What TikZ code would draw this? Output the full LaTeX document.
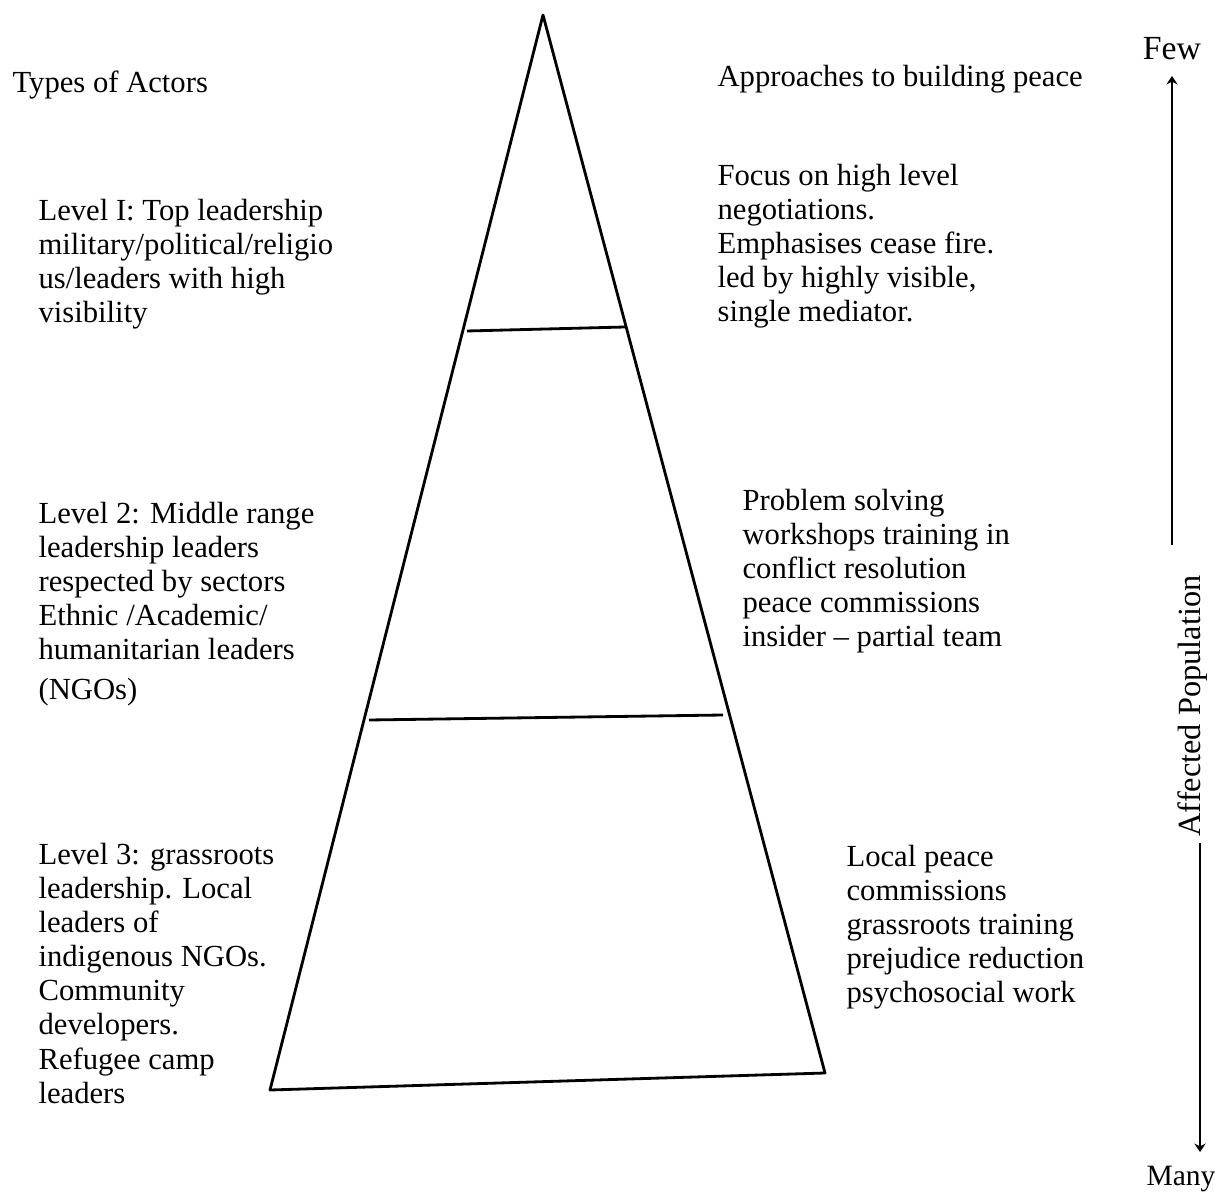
\documentclass[tikz,border=0pt]{standalone}
\usepackage{fontspec}
\setmainfont{Liberation Serif}
\usepackage{tikz}
\usetikzlibrary{arrows.meta}

\tikzset{
  txt/.style={anchor=north west, align=left, inner sep=0pt,
              font=\fontsize{10.9}{12.1}\selectfont},
  edge/.style={black, line width=1pt},
  axis/.style={black, line width=1pt, -{Stealth[length=3pt,width=4pt]}}
}

\begin{document}
\begin{tikzpicture}[x={(0.0125cm,0)}, y={(0,-0.0125cm)}]
  \useasboundingbox (0,0) rectangle (1215,1192);

  % ---------------- the pyramid ----------------
  \coordinate (apex) at (543,15);
  \coordinate (bl)   at (270,1090);
  \coordinate (br)   at (825,1073);
  \coordinate (l1a)  at (467,331);
  \coordinate (l1b)  at (625,327);
  \coordinate (l2a)  at (369,720);
  \coordinate (l2b)  at (723,715);
  \draw[edge, line join=round] (apex) -- (br) -- (bl) -- cycle;
  \draw[edge] (l1a) -- (l1b);
  \draw[edge] (l2a) -- (l2b);

  % ---------------- headings ----------------
  \node[txt] (actors) at (12,70) {Types of Actors};
  \node[txt] (approaches) at (717,65) {Approaches to building peace};

  % ---------------- actors, left side ----------------
  \node[txt] (lev1) at (38,199) {Level I: Top leadership\\
    military/political/religio\\us/leaders with high\\visibility};
  \node[txt] (lev2) at (38,502) {Level 2: Middle range\\leadership leaders\\
    respected by sectors\\Ethnic /Academic/\\humanitarian leaders\\[2pt](NGOs)};
  \node[txt] (lev3) at (38,843) {Level 3: grassroots\\leadership. Local\\
    leaders of\\indigenous NGOs.\\Community\\developers.\\Refugee camp\\leaders};

  % ---------------- approaches, right side ----------------
  \node[txt] (app1) at (717,164) {Focus on high level\\negotiations.\\
    Emphasises cease fire.\\led by highly visible,\\single mediator.};
  \node[txt] (app2) at (742,489) {Problem solving\\workshops training in\\
    conflict resolution\\peace commissions\\insider -- partial team};
  \node[txt] (app3) at (846,845) {Local peace\\commissions\\grassroots training\\
    prejudice reduction\\psychosocial work};

  % ---------------- affected population axis ----------------
  \node[font=\fontsize{12}{14}\selectfont, inner sep=0pt] (few) at (1172,49) {Few};
  \node[font=\fontsize{10.5}{12}\selectfont, inner sep=0pt] (many) at (1181,1179) {Many};
  \node[font=\fontsize{11.5}{13}\selectfont, inner sep=0pt, rotate=90] (pop)
    at (1193,706) {Affected Population};
  \coordinate (uptop) at (1172,76);
  \coordinate (upbot) at (1172,545);
  \coordinate (dntop) at (1200,843);
  \coordinate (dnbot) at (1200,1152);
  \draw[axis] (upbot) -- (uptop);
  \draw[axis] (dntop) -- (dnbot);
\end{tikzpicture}
\end{document}
